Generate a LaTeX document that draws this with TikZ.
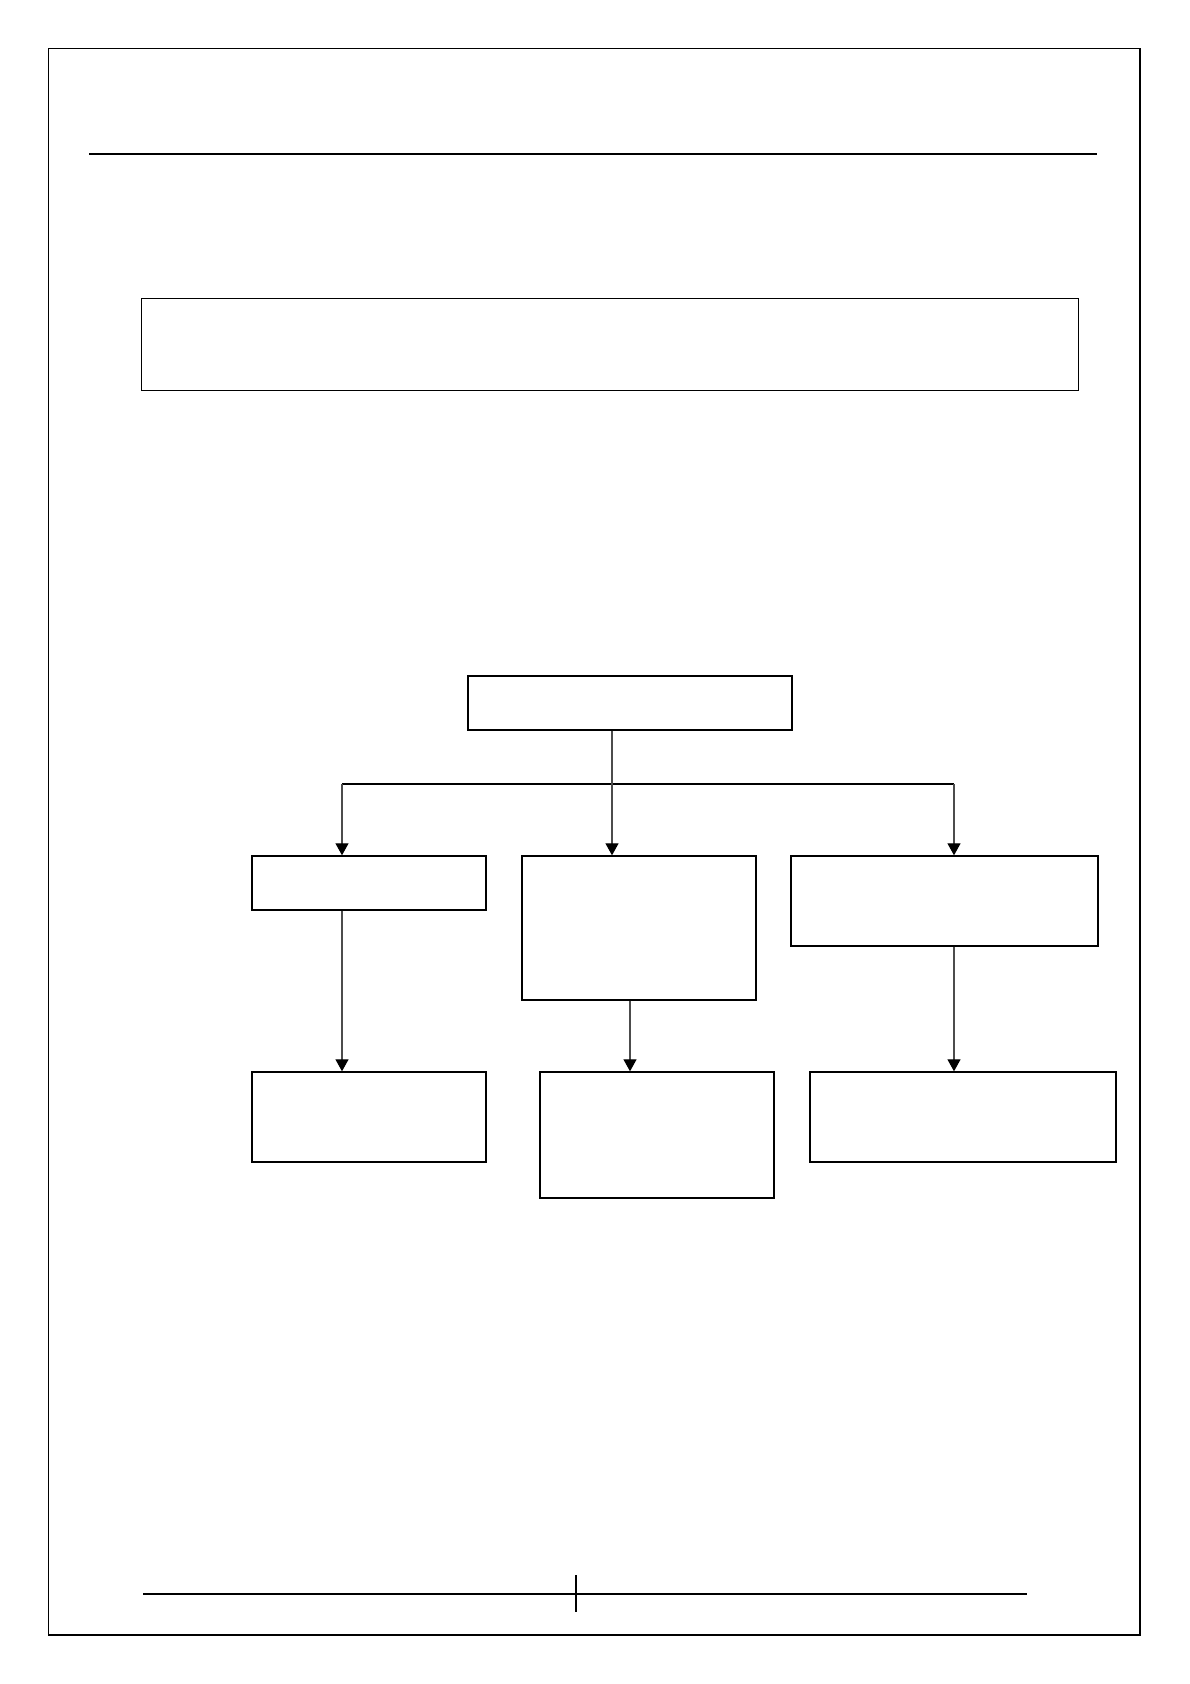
\documentclass[tikz,border=0pt]{standalone}
\usepackage{tikz}
\usetikzlibrary{arrows.meta}

\begin{document}
\begin{tikzpicture}[x=0.5bp,y=-0.5bp,
    chartbox/.style 2 args={draw,shape=rectangle,inner sep=0pt,line width=0.7bp,
      minimum width=#1*0.5bp,minimum height=#2*0.5bp},
    link/.style={draw=black!70,line width=0.6bp,-{Triangle[length=6bp,width=6.5bp,color=black]}}]
      \useasboundingbox (0,0) rectangle (1190,1684);
      % page frame and rules
      \draw[line width=0.55bp] (48.5,48.5) rectangle (1140,1635);
      \draw[line width=1.1bp] (89,154) -- (1097,154);
      \draw[line width=1.1bp] (143,1594) -- (1027,1594);
      \draw[line width=0.6bp] (576,1575) -- (576,1612);
      % banner
      \node[chartbox={937}{92},line width=0.45bp] (banner) at (609.5,344) {};
      % chart
      \node[chartbox={324}{54}] (top) at (630,703) {};
      \node[chartbox={234}{54}] (l1a) at (369,883) {};
      \node[chartbox={234}{144}] (l1b) at (639,928) {};
      \node[chartbox={307}{90}] (l1c) at (944.5,901) {};
      \node[chartbox={234}{90}] (l2a) at (369,1117) {};
      \node[chartbox={234}{126}] (l2b) at (657,1135) {};
      \node[chartbox={306}{90}] (l2c) at (963,1117) {};
      \coordinate (busL) at (342,784);
      \coordinate (busR) at (954,784);
      \coordinate (trunk) at (612,784);
      \draw[line width=0.7bp] (busL) -- (busR);
      \draw[link] (trunk |- top.south) -- (trunk |- l1b.north);
      \draw[link] (busL) -- (busL |- l1a.north);
      \draw[link] (busR) -- (busR |- l1c.north);
      \draw[link] (busL |- l1a.south) -- (busL |- l2a.north);
      \draw[link] ([xshift=-4.5bp]l1b.south) -- ([xshift=-4.5bp]l1b.south |- l2b.north);
      \draw[link] (busR |- l1c.south) -- (busR |- l2c.north);
    \end{tikzpicture}
\end{document}
